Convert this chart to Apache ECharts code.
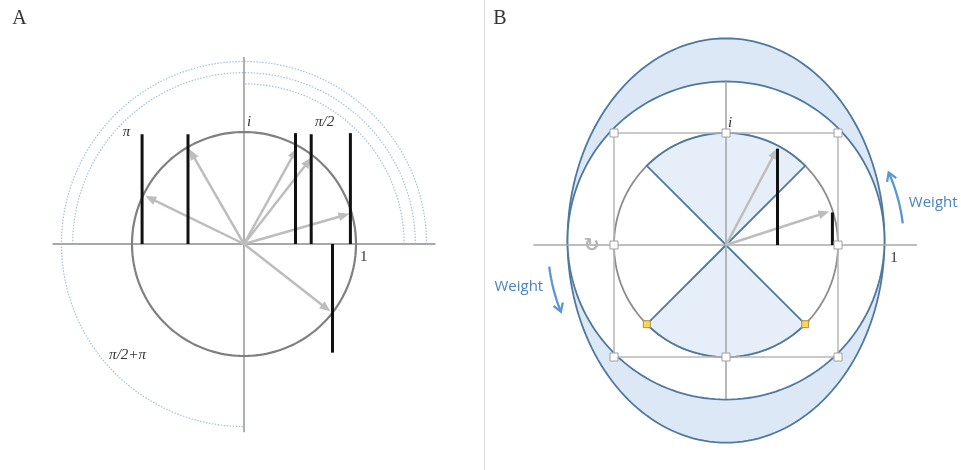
<!DOCTYPE html>
<html>
<head>
<meta charset="utf-8">
<script src="https://cdn.jsdelivr.net/npm/echarts/dist/echarts.min.js"></script>
<style>html,body{margin:0;padding:0;background:#fff;}#main{width:961px;height:470px;}</style>
</head>
<body>
<div id="main"></div>
<script>
// ---------- Panel A data ----------
const armAnglesA = [154, 120, 61, 52, 16, -38];      // degrees of the grey unit vectors
const armLenA    = [0.98, 0.98, 0.98, 0.98, 0.98, 0.98];
const barXA      = [-0.91, -0.50, 0.46, 0.60, 0.95, 0.79];  // real part of each vector
const barHA      = [0.98, 0.98, 0.99, 0.98, 0.99, -0.97];   // bar heights
const arcRadiiA  = [1.63, 1.53, 1.43];                // dotted phase arcs
const arcSweepA  = [270, 180, 90];                    // degrees swept
const labelTextA = ['π', 'i', 'π/2', '1', 'π/2+π'];

// ---------- Panel B data ----------
const armAnglesB = [62, 18];
const armLenB    = [0.98, 0.97];
const barXB      = [0.46, 0.95];
const barHB      = [0.86, 0.29];
const sectorsB   = [[45, 135], [225, 315]];
const bandCenterB = [0, 0.04];
const bandOuterR = [1.415, 1.805];
const bandInnerR = [1.415, 1.42];
const weightArcs = [[7, 24], [187, 202]];
const weightR    = 1.59;
const labelTextB = ['i', '1', 'Weight', 'Weight'];
const panelTitles = ['A', 'B'];

const D = Math.PI / 180;

function ellipsePts(api, cx, cy, rx, ry) {
  const pts = [];
  for (let d = 0; d < 360; d += 2) {
    pts.push(api.coord([cx + rx * Math.cos(d * D), cy + ry * Math.sin(d * D)]));
  }
  return pts;
}
function arcPts(api, r, a0, a1) {
  const pts = [];
  const n = Math.max(8, Math.ceil(Math.abs(a1 - a0) / 2));
  for (let k = 0; k <= n; k++) {
    const t = (a0 + (a1 - a0) * k / n) * D;
    pts.push(api.coord([r * Math.cos(t), r * Math.sin(t)]));
  }
  return pts;
}
function headPts(pPrev, p1, hl, hw) {
  const dx = p1[0] - pPrev[0], dy = p1[1] - pPrev[1];
  const L = Math.hypot(dx, dy) || 1, ux = dx / L, uy = dy / L;
  const bx = p1[0] - ux * hl, by = p1[1] - uy * hl;
  return [[bx - uy * hw / 2, by + ux * hw / 2], [p1[0], p1[1]], [bx + uy * hw / 2, by - ux * hw / 2]];
}
function arrow(p0, p1, color, lw, hl, hw) {
  const dx = p1[0] - p0[0], dy = p1[1] - p0[1];
  const L = Math.hypot(dx, dy), ux = dx / L, uy = dy / L;
  return [
    {type: 'line', shape: {x1: p0[0], y1: p0[1], x2: p1[0] - ux * (hl - 2), y2: p1[1] - uy * (hl - 2)},
     style: {stroke: color, lineWidth: lw}},
    {type: 'polygon', shape: {points: headPts(p0, p1, hl, hw)}, style: {fill: color}}
  ];
}

const AX = {xAxisIndex: 0, yAxisIndex: 0};
const BX = {xAxisIndex: 1, yAxisIndex: 1};
function cs(ax, data, render, z) {
  return Object.assign({type: 'custom', data: data, renderItem: render, z: z, silent: true, clip: false, animation: false}, ax);
}

const GREY_AXIS = '#a8a8a8';
const BLUE_LINE = '#4f789f';
const WEIGHT_BLUE = '#5a98cf';

const series = [
  // ===== Panel A =====
  cs(AX, arcRadiiA.map((r, i) => ({value: [r, arcSweepA[i]]})), function (p, api) {
    return {type: 'polyline', shape: {points: arcPts(api, api.value(0), 0, api.value(1))},
            style: {stroke: '#a3c0d9', lineWidth: 1.2, lineDash: [1.5, 1.5], fill: null}};
  }, 1),
  cs(AX, [{value: [-1.71, 1.71]}, {value: [1.67, -1.68]}], function (p, api) {
    const a = api.value(0), b = api.value(1);
    const p0 = p.dataIndex === 0 ? api.coord([a, 0]) : api.coord([0, a]);
    const p1 = p.dataIndex === 0 ? api.coord([b, 0]) : api.coord([0, b]);
    return {type: 'line', shape: {x1: p0[0], y1: p0[1], x2: p1[0], y2: p1[1]}, style: {stroke: GREY_AXIS, lineWidth: 1.8}};
  }, 2),
  cs(AX, [{value: [0, 0]}], function (p, api) {
    return {type: 'polygon', shape: {points: ellipsePts(api, 0, 0, 1, 1)}, style: {stroke: '#808080', lineWidth: 2.2, fill: null}};
  }, 3),
  cs(AX, armAnglesA.map((a, i) => ({value: [a, armLenA[i]]})), function (p, api) {
    const a = api.value(0) * D, L = api.value(1);
    return {type: 'group', children: arrow(api.coord([0, 0]), api.coord([L * Math.cos(a), L * Math.sin(a)]), '#bdbdbd', 2.5, 11, 9)};
  }, 4),
  cs(AX, barXA.map((x, i) => ({value: [x, barHA[i]]})), function (p, api) {
    const p0 = api.coord([api.value(0), 0]), p1 = api.coord([api.value(0), api.value(1)]);
    return {type: 'line', shape: {x1: p0[0], y1: p0[1], x2: p1[0], y2: p1[1]}, style: {stroke: '#111', lineWidth: 3}};
  }, 5),
  cs(AX, [[-1.05, 1.0], [0.045, 1.09], [0.72, 1.09], [1.07, -0.12], [-1.04, -0.99]].map(v => ({value: v})), function (p, api) {
    const c = api.coord([api.value(0), api.value(1)]);
    const t = labelTextA[p.dataIndex];
    return {type: 'text', x: c[0], y: c[1],
            style: {text: t, fill: '#333', font: (t === '1' ? '' : 'italic ') + '15px "Liberation Serif"', align: 'center', verticalAlign: 'middle'}};
  }, 6),

  // ===== Panel B =====
  cs(BX, [{value: [bandOuterR[0], bandOuterR[1]]}], function (p, api) {
    return {type: 'polygon', shape: {points: ellipsePts(api, bandCenterB[0], bandCenterB[1], api.value(0), api.value(1))},
            style: {fill: '#dce8f5', stroke: BLUE_LINE, lineWidth: 1.8}};
  }, 1),
  cs(BX, [{value: [bandInnerR[0], bandInnerR[1]]}], function (p, api) {
    return {type: 'polygon', shape: {points: ellipsePts(api, bandCenterB[0], bandCenterB[1], api.value(0), api.value(1))},
            style: {fill: '#ffffff', stroke: BLUE_LINE, lineWidth: 1.8}};
  }, 2),
  cs(BX, [{value: [0, 0]}], function (p, api) {
    return {type: 'polygon', shape: {points: ellipsePts(api, 0, 0, 1, 1)}, style: {stroke: '#8c8c8c', lineWidth: 1.8, fill: null}};
  }, 3),
  cs(BX, sectorsB.map(s => ({value: s})), function (p, api) {
    const pts = [api.coord([0, 0])].concat(arcPts(api, 1, api.value(0), api.value(1)));
    return {type: 'polygon', shape: {points: pts}, style: {fill: '#e6eff9', stroke: BLUE_LINE, lineWidth: 1.8}};
  }, 4),
  cs(BX, [{value: [-1.72, 1.705]}, {value: [1.46, -1.375]}], function (p, api) {
    const a = api.value(0), b = api.value(1);
    const p0 = p.dataIndex === 0 ? api.coord([a, 0]) : api.coord([0, a]);
    const p1 = p.dataIndex === 0 ? api.coord([b, 0]) : api.coord([0, b]);
    return {type: 'line', shape: {x1: p0[0], y1: p0[1], x2: p1[0], y2: p1[1]}, style: {stroke: GREY_AXIS, lineWidth: 1.6}};
  }, 5),
  cs(BX, [{value: [-1, 1]}], function (p, api) {
    const a = api.coord([-1, 1]), b = api.coord([1, -1]);
    return {type: 'rect', shape: {x: a[0], y: a[1], width: b[0] - a[0], height: b[1] - a[1]},
            style: {fill: null, stroke: '#b8b8b8', lineWidth: 1.5}};
  }, 6),
  cs(BX, armAnglesB.map((a, i) => ({value: [a, armLenB[i]]})), function (p, api) {
    const a = api.value(0) * D, L = api.value(1);
    return {type: 'group', children: arrow(api.coord([0, 0]), api.coord([L * Math.cos(a), L * Math.sin(a)]), '#bdbdbd', 2.5, 11, 9)};
  }, 7),
  cs(BX, barXB.map((x, i) => ({value: [x, barHB[i]]})), function (p, api) {
    const p0 = api.coord([api.value(0), 0]), p1 = api.coord([api.value(0), api.value(1)]);
    return {type: 'line', shape: {x1: p0[0], y1: p0[1], x2: p1[0], y2: p1[1]}, style: {stroke: '#111', lineWidth: 3}};
  }, 8),
  // selection handles
  cs(BX, [[-1, 1], [0, 1], [1, 1], [-1, 0], [1, 0], [-1, -1], [0, -1], [1, -1]].map(v => ({value: v})), function (p, api) {
    const c = api.coord([api.value(0), api.value(1)]);
    return {type: 'rect', shape: {x: c[0] - 4, y: c[1] - 4, width: 8, height: 8},
            style: {fill: '#ffffff', stroke: '#a0a0a0', lineWidth: 1}};
  }, 9),
  cs(BX, [225, 315].map(a => ({value: [Math.cos(a * D), Math.sin(a * D)]})), function (p, api) {
    const c = api.coord([api.value(0), api.value(1)]);
    return {type: 'rect', shape: {x: c[0] - 3.5, y: c[1] - 3.5, width: 7, height: 7},
            style: {fill: '#f6d65e', stroke: '#a8913a', lineWidth: 1}};
  }, 10),
  cs(BX, [{value: [-1.2, 0]}], function (p, api) {
    const c = api.coord([api.value(0), api.value(1)]);
    return {type: 'text', x: c[0], y: c[1] + 1,
            style: {text: '↻', fill: '#b5b5b5', font: 'bold 19px "DejaVu Sans"', align: 'center', verticalAlign: 'middle'}};
  }, 10),
  // weight arrows
  cs(BX, weightArcs.map(w => ({value: w})), function (p, api) {
    const pts = arcPts(api, weightR, api.value(0), api.value(1));
    const n = pts.length;
    const line = {type: 'polyline', shape: {points: pts}, style: {stroke: WEIGHT_BLUE, lineWidth: 2.3, fill: null}};
    const head = {type: 'polyline', shape: {points: headPts(pts[n - 3], pts[n - 1], 8, 10)},
                  style: {stroke: WEIGHT_BLUE, lineWidth: 2.3, fill: null, lineJoin: 'miter'}};
    return {type: 'group', children: [line, head]};
  }, 11),
  cs(BX, [[0.036, 1.09], [1.5, -0.12], [1.85, 0.375], [-1.85, -0.375]].map(v => ({value: v})), function (p, api) {
    const c = api.coord([api.value(0), api.value(1)]);
    const t = labelTextB[p.dataIndex];
    const isW = t === 'Weight';
    return {type: 'text', x: c[0], y: c[1],
            style: {text: t, fill: isW ? '#4a84ba' : '#333',
                    font: isW ? '15px "Open Sans"' : ((t === 'i' ? 'italic ' : '') + '15px "Liberation Serif"'),
                    align: 'center', verticalAlign: 'middle'}};
  }, 12)
];

const chart = echarts.init(document.getElementById('main'));
chart.setOption({
  animation: false,
  backgroundColor: '#ffffff',
  grid: [
    {left: 20, top: 20, width: 448, height: 448},
    {left: 502, top: 21, width: 448, height: 448}
  ],
  xAxis: [
    {gridIndex: 0, type: 'value', min: -2, max: 2, show: false},
    {gridIndex: 1, type: 'value', min: -2, max: 2, show: false}
  ],
  yAxis: [
    {gridIndex: 0, type: 'value', min: -2, max: 2, show: false},
    {gridIndex: 1, type: 'value', min: -2, max: 2, show: false}
  ],
  graphic: [
    {type: 'line', shape: {x1: 484.5, y1: 0, x2: 484.5, y2: 470}, style: {stroke: '#dcdcdc', lineWidth: 1}, silent: true},
    {type: 'text', x: 19.5, y: 19, style: {text: panelTitles[0], font: '20px "Liberation Serif"', fill: '#333', align: 'center', verticalAlign: 'middle'}, silent: true},
    {type: 'text', x: 500, y: 19, style: {text: panelTitles[1], font: '20px "Liberation Serif"', fill: '#333', align: 'center', verticalAlign: 'middle'}, silent: true}
  ],
  series: series
});
</script>
</body>
</html>
